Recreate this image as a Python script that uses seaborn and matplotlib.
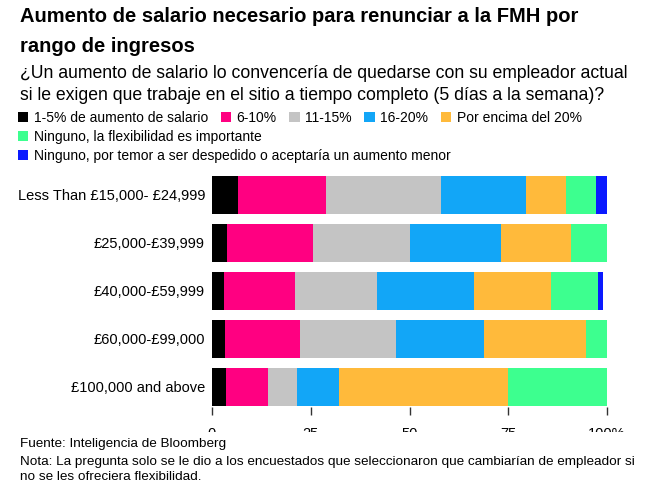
"""
    Stacked horizontal bars: salary raise needed to give up WFH, by income band.
"""

import pandas as pd
import numpy as np
import matplotlib.pyplot as plt
import matplotlib.patches as mpatches
import seaborn as sns

sns.set_style('white')
plt.rcParams['font.family'] = ['Liberation Sans', 'DejaVu Sans']
plt.rcParams['text.color'] = 'black'
plt.rcParams['xtick.color'] = 'black'
plt.rcParams['ytick.color'] = 'black'

## Data
income_bands = [
    'Less Than £15,000- £24,999',
    '£25,000-£39,999',
    '£40,000-£59,999',
    '£60,000-£99,000',
    '£100,000 and above',
]
segments = [
    '1-5% de aumento de salario',
    '6-10%',
    '11-15%',
    '16-20%',
    'Por encima del 20%',
    'Ninguno, la flexibilidad es importante',
    'Ninguno, por temor a ser despedido o aceptaría un aumento menor',
]
pct_1_5 = [6.5, 3.7, 3.1, 3.4, 3.6]
pct_6_10 = [22.3, 21.9, 18.0, 19.0, 10.6]
pct_11_15 = [29.1, 24.5, 20.6, 24.1, 7.2]
pct_16_20 = [21.5, 23.0, 24.6, 22.3, 10.7]
pct_above_20 = [10.2, 17.7, 19.6, 25.8, 42.8]
pct_flex = [7.6, 9.2, 11.8, 5.4, 25.1]
pct_fear = [2.8, 0.0, 1.4, 0.0, 0.0]

colors = ['#000000', '#ff0081', '#c4c4c4', '#12a6f7', '#ffba3b', '#3dff8f', '#0a1aff']

df = pd.DataFrame(
    dict(zip(segments, [pct_1_5, pct_6_10, pct_11_15, pct_16_20,
                        pct_above_20, pct_flex, pct_fear])),
    index=income_bands,
)
cum = df.cumsum(axis=1)

## Figure
fig = plt.figure(figsize=(6.62, 4.93), dpi=100)
ax = fig.add_axes([212 / 662, 1 - 407 / 493, 395 / 662, 236 / 493])

# draw cumulative totals from the widest down so each segment shows
for seg, col in reversed(list(zip(segments, colors))):
    sns.barplot(x=cum[seg].values, y=income_bands, color=col, orient='h',
                width=0.79, linewidth=0, saturation=1, ax=ax)

ax.set_xlim(0, 100)
ax.set_ylim(4.42, -0.5)
ax.set_xticks([0, 25, 50, 75, 100])
ax.set_xticklabels(['0', '25', '50', '75', '100%'])
ax.tick_params(axis='x', length=6, width=1, color='#333333', pad=8.5,
               labelsize=10.5, bottom=True)
ax.tick_params(axis='y', length=0, pad=5, labelsize=10.5)
ax.set_xlabel('')
ax.set_ylabel('')
sns.despine(ax=ax, left=True, bottom=True)

# tick labels are cut off under the footer in the original
fig.add_artist(mpatches.Rectangle((0, 0), 1, 1 - 432 / 493, transform=fig.transFigure,
                                  facecolor='white', edgecolor='none', zorder=5))

# Titles
fig.text(20 / 662, 1 - 7 / 493,
         'Aumento de salario necesario para renunciar a la FMH por\nrango de ingresos',
         fontsize=14.5, fontweight='bold', va='top', ha='left', linespacing=1.7)
fig.text(20 / 662, 1 - 65 / 493,
         '¿Un aumento de salario lo convencería de quedarse con su empleador actual\n'
         'si le exigen que trabaje en el sitio a tiempo completo (5 días a la semana)?',
         fontsize=12.7, va='top', ha='left', linespacing=1.4)

# Legend rows
handles = [mpatches.Patch(facecolor=c, edgecolor='none') for c in colors]
legend_kw = dict(frameon=False, fontsize=10, handlelength=0.75, handleheight=0.75,
                 handletextpad=0.4, columnspacing=0.9, borderpad=0, borderaxespad=0,
                 loc='center left')
rows = [(slice(0, 5), 118), (slice(5, 6), 137), (slice(6, 7), 156)]
for sl, ypix in rows:
    fig.legend(handles[sl], segments[sl], ncol=5,
               bbox_to_anchor=(18 / 662, 1 - ypix / 493), **legend_kw)

# Footer
fig.text(20 / 662, 1 - 438 / 493, 'Fuente: Inteligencia de Bloomberg',
         fontsize=9.7, va='top', ha='left', zorder=6)
fig.text(20 / 662, 1 - 456 / 493,
         'Nota: La pregunta solo se le dio a los encuestados que seleccionaron que cambiarían de empleador si\n'
         'no se les ofreciera flexibilidad.',
         fontsize=9.7, va='top', ha='left', linespacing=1.3, zorder=6)

fig.savefig('out.png', dpi=100)
